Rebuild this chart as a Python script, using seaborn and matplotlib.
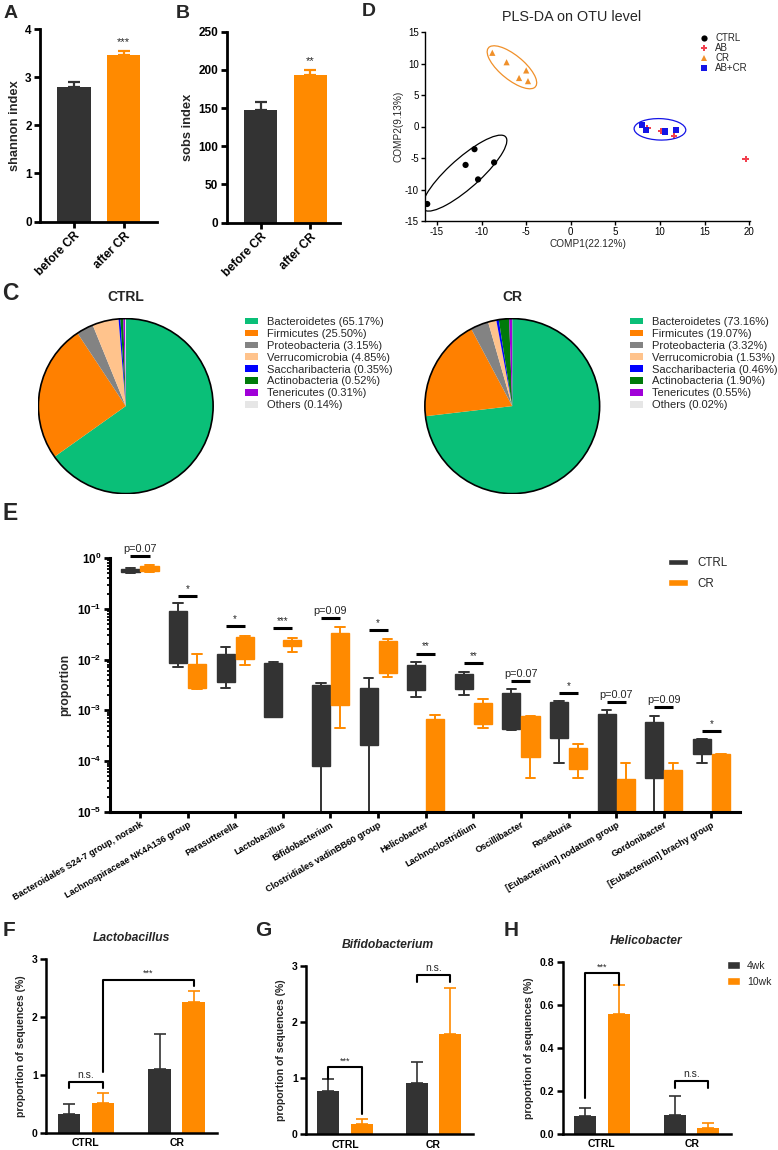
import matplotlib
matplotlib.use('Agg')
import matplotlib.pyplot as plt
from matplotlib.patches import Patch, Circle, Ellipse
import numpy as np
import pandas as pd
import seaborn as sns

sns.set_theme(style='ticks')
plt.rcParams['font.family'] = ['Liberation Sans', 'DejaVu Sans']
plt.rcParams['axes.unicode_minus'] = False
plt.rcParams['mathtext.fontset'] = 'custom'
plt.rcParams['mathtext.rm'] = 'Liberation Sans'
plt.rcParams['mathtext.bf'] = 'Liberation Sans:bold'

DARK = '#333333'
ORANGE = '#FF8A00'

# ---- A / B: alpha diversity ----
alpha_groups = ['before CR', 'after CR']
shannon_mean = [2.79, 3.46]
shannon_sem = [0.11, 0.09]
sobs_mean = [147, 193]
sobs_sem = [11, 7]

# ---- D: PLS-DA scores ----
ctrl_x = [-16.1, -10.8, -11.8, -8.6, -10.4]
ctrl_y = [-12.3, -3.6, -6.1, -5.7, -8.4]
ab_x = [8.6, 10.1, 11.6, 19.6]
ab_y = [-0.2, -0.7, -1.5, -5.1]
cr_x = [-8.8, -7.2, -5.8, -5.0, -4.8]
cr_y = [11.7, 10.2, 7.7, 8.9, 7.2]
abcr_x = [8.0, 8.4, 10.6, 11.8]
abcr_y = [0.2, -0.6, -0.8, -0.5]
# confidence ellipses (data units)
ell_groups = ['CTRL', 'CR', 'AB+CR']
ell_cx = [-11.9, -6.6, 10.0]
ell_cy = [-7.4, 9.4, -0.45]
ell_major = [7.4, 4.1, 2.9]
ell_minor = [2.0, 1.6, 1.7]
ell_angle = [53, -53, -3]

# ---- C: phylum composition ----
phyla = ['Bacteroidetes', 'Firmicutes', 'Proteobacteria', 'Verrucomicrobia',
         'Saccharibacteria', 'Actinobacteria', 'Tenericutes', 'Others']
ctrl_pct = [65.17, 25.50, 3.15, 4.85, 0.35, 0.52, 0.31, 0.14]
cr_pct = [73.16, 19.07, 3.32, 1.53, 0.46, 1.90, 0.55, 0.02]
phyla_colors = ['#0ABF78', '#FF8000', '#838383', '#FFC38C',
                '#0000FF', '#007A0A', '#A000D8', '#E6E6E6']

# ---- E: genus level box plots (min, q1, q3, max) ----
genera = ['Bacteroidales S24-7 group, norank', 'Lachnospiraceae NK4A136 group',
          'Parasutterella', 'Lactobacillus', 'Bifidobacterium',
          'Clostridiales vadinBB60 group', 'Helicobacter', 'Lachnoclostridium',
          'Oscillibacter', 'Roseburia', '[Eubacterium] nodatum group',
          'Gordonibacter', '[Eubacterium] brachy group']
ctrl_lo = [0.50, 0.0072, 0.0027, 0.00073, 1e-6, 1e-6, 0.0018, 0.0020, 0.00041, 9.1e-5, 1e-6, 1e-6, 9.1e-5]
ctrl_q1 = [0.52, 0.0085, 0.0037, 0.00075, 8.1e-5, 0.00021, 0.0025, 0.0026, 0.00043, 0.00028, 1e-6, 4.6e-5, 0.000138]
ctrl_q3 = [0.62, 0.092, 0.0127, 0.0085, 0.0032, 0.0028, 0.0077, 0.0052, 0.0022, 0.00145, 0.00085, 0.0006, 0.00027]
ctrl_hi = [0.63, 0.13, 0.0175, 0.0088, 0.0034, 0.0044, 0.0089, 0.0057, 0.0026, 0.0015, 0.0010, 0.00076, 0.00027]
cr_lo = [0.53, 0.0026, 0.0079, 0.0144, 0.00046, 0.0046, 1e-6, 0.00046, 4.6e-5, 4.6e-5, 1e-6, 1e-6, 1e-6]
cr_q1 = [0.55, 0.0027, 0.0103, 0.0187, 0.0013, 0.0054, 1e-6, 0.00053, 0.00012, 6.9e-5, 1e-6, 1e-6, 1e-6]
cr_q3 = [0.70, 0.0082, 0.028, 0.0245, 0.034, 0.0233, 0.00069, 0.00138, 0.00076, 0.00018, 4.5e-5, 6.7e-5, 0.000136]
cr_hi = [0.72, 0.0127, 0.029, 0.027, 0.043, 0.0254, 0.00081, 0.00166, 0.00079, 0.00022, 9.3e-5, 9.3e-5, 0.000136]
sig_height = [1.1, 0.176, 0.0458, 0.0413, 0.0668, 0.0383, 0.0131, 0.00845, 0.00379, 0.00223, 0.00146, 0.00115, 0.00039]
sig_label = ['p=0.07', '*', '*', '***', 'p=0.09', '*', '**', '**', 'p=0.07', '*', 'p=0.07', 'p=0.09', '*']

# ---- F / G / H: proportion of sequences ----
ft_groups = ['CTRL', 'CR']
ft_times = ['4wk', '10wk']
lacto_4wk_mean = [0.32, 1.10]
lacto_4wk_sem = [0.17, 0.61]
lacto_10wk_mean = [0.51, 2.25]
lacto_10wk_sem = [0.18, 0.20]
bifido_4wk_mean = [0.77, 0.91]
bifido_4wk_sem = [0.21, 0.37]
bifido_10wk_mean = [0.18, 1.78]
bifido_10wk_sem = [0.09, 0.82]
helico_4wk_mean = [0.084, 0.087]
helico_4wk_sem = [0.037, 0.090]
helico_10wk_mean = [0.558, 0.028]
helico_10wk_sem = [0.135, 0.020]
# brackets: (bar a, bar b, leg a bottom, top, leg b bottom, label)
lacto_brackets = [(('CTRL', '4wk'), ('CTRL', '10wk'), 0.77, 0.87, 0.77, 'n.s.'),
                  (('CTRL', '10wk'), ('CR', '10wk'), 1.05, 2.64, 2.54, '***')]
bifido_brackets = [(('CTRL', '4wk'), ('CTRL', '10wk'), 0.99, 1.19, 0.37, '***'),
                   (('CR', '4wk'), ('CR', '10wk'), 2.71, 2.83, 2.71, 'n.s.')]
helico_brackets = [(('CTRL', '4wk'), ('CTRL', '10wk'), 0.165, 0.747, 0.693, '***'),
                   (('CR', '4wk'), ('CR', '10wk'), 0.211, 0.245, 0.211, 'n.s.')]

W, H = 778, 1150
fig = plt.figure(figsize=(W / 100, H / 100), dpi=100)
fig.patch.set_facecolor('white')


def add_ax(left, top, right, bottom):
    return fig.add_axes([left / W, 1 - bottom / H, (right - left) / W, (bottom - top) / H])


def bold_ticks(ax):
    for lab in ax.get_xticklabels() + ax.get_yticklabels():
        lab.set_fontweight('bold')


def style_axis(ax, lw=1.8, size=8):
    sns.despine(ax=ax)
    for s in ('left', 'bottom'):
        ax.spines[s].set_linewidth(lw)
        ax.spines[s].set_color('black')
    ax.tick_params(axis='both', width=lw, length=4, labelsize=size, colors='black', pad=2)


def letter(x, y, s, size=14):
    fig.text(x / W, 1 - y / H, s, fontsize=size, fontweight='bold', ha='center', va='center')


# ---------- A and B ----------
def alpha_panel(box, means, sems, ymax, step, ylabel, star, xlim):
    ax = add_ax(*box)
    sns.barplot(x=alpha_groups, y=means, hue=alpha_groups, palette=[DARK, ORANGE],
                width=0.67, saturation=1, linewidth=0, legend=False, ax=ax)
    for i, (m, e, c) in enumerate(zip(means, sems, [DARK, ORANGE])):
        ax.errorbar(i, m, yerr=[[0], [e]], fmt='none', ecolor=c, elinewidth=1.6,
                    capsize=4.5, capthick=1.6)
    ax.annotate(star, (1, means[1] + sems[1]), xytext=(0, 3), textcoords='offset points',
                ha='center', va='bottom', fontsize=8)
    ax.set_ylim(0, ymax)
    ax.set_yticks(np.arange(0, ymax + 1e-9, step))
    ax.set_xlim(*xlim)
    style_axis(ax, lw=2.0, size=8.5)
    ax.set_ylabel(ylabel, fontsize=9.3, fontweight='bold', labelpad=3)
    ax.set_xticks([0, 1])
    ax.set_xticklabels(alpha_groups, rotation=45, ha='right', rotation_mode='anchor', fontsize=8.5)
    bold_ticks(ax)


alpha_panel((40, 29.3, 157, 221.5), shannon_mean, shannon_sem, 4, 1, 'shannon index', '***', (-0.68, 1.67))
alpha_panel((226.7, 31.7, 340, 222.7), sobs_mean, sobs_sem, 250, 50, 'sobs index', '**', (-0.69, 1.6))
letter(10.5, 14, 'A')
letter(182.5, 13.5, 'B')

# ---------- D ----------
axd = add_ax(425, 32, 750, 221)
pls = pd.concat([
    pd.DataFrame({'x': ctrl_x, 'y': ctrl_y, 'group': 'CTRL'}),
    pd.DataFrame({'x': ab_x, 'y': ab_y, 'group': 'AB'}),
    pd.DataFrame({'x': cr_x, 'y': cr_y, 'group': 'CR'}),
    pd.DataFrame({'x': abcr_x, 'y': abcr_y, 'group': 'AB+CR'}),
], ignore_index=True)
pls_colors = {'CTRL': 'black', 'AB': '#F2404E', 'CR': '#F0902A', 'AB+CR': '#1414E6'}
pls_markers = {'CTRL': 'o', 'AB': 'P', 'CR': '^', 'AB+CR': 's'}
sns.scatterplot(data=pls, x='x', y='y', hue='group', style='group',
                hue_order=list(pls_colors), style_order=list(pls_colors),
                palette=pls_colors, markers=pls_markers, s=20, linewidth=0, ax=axd)
for g, cx, cy, a, b, ang in zip(ell_groups, ell_cx, ell_cy, ell_major, ell_minor, ell_angle):
    axd.add_patch(Ellipse((cx, cy), 2 * a, 2 * b, angle=ang, fill=False,
                          edgecolor=pls_colors[g], lw=0.9))
axd.set_xlim(-16.35, 20.1)
axd.set_ylim(-15, 15)
axd.set_xticks(np.arange(-15, 21, 5))
axd.set_yticks(np.arange(-15, 16, 5))
sns.despine(ax=axd)
for s in ('left', 'bottom'):
    axd.spines[s].set_linewidth(1.0)
    axd.spines[s].set_color('black')
axd.tick_params(width=1.0, length=3, labelsize=7, colors='black', pad=1.5)
axd.set_xlabel('COMP1(22.12%)', fontsize=7.2, labelpad=1)
axd.set_ylabel('COMP2(9.13%)', fontsize=7.2, labelpad=1)
sns.move_legend(axd, 'upper left', bbox_to_anchor=(0.815, 1.02), frameon=False, title=None,
                fontsize=7, handletextpad=0.1, labelspacing=0.0, borderpad=0)
fig.text(572 / W, 1 - 16.7 / H, 'PLS-DA on OTU level', fontsize=10.4, ha='center', va='center')
letter(369, 11, 'D')


# ---------- C ----------
def pie_panel(left, pct, title, legend_x):
    ax = add_ax(left, 317.7, left + 176.5, 494.5)
    ax.pie(pct, colors=phyla_colors, startangle=90, counterclock=False,
           wedgeprops=dict(linewidth=0))
    ax.add_patch(Circle((0, 0), 1, fill=False, edgecolor='black', lw=1.2))
    ax.set_xlim(-1.01, 1.01)
    ax.set_ylim(-1.01, 1.01)
    ax.set_aspect('auto')
    fig.text((left + 88) / W, 1 - 297 / H, title, fontsize=10, fontweight='bold', ha='center', va='center')
    handles = [Patch(facecolor=c, edgecolor='none') for c in phyla_colors]
    labels = [f'{p} ({v:.2f}%)' for p, v in zip(phyla, pct)]
    ax.legend(handles, labels, loc='upper left', bbox_to_anchor=(legend_x / W, 1 - 317 / H),
              bbox_transform=fig.transFigure, frameon=False, fontsize=8.0, handlelength=1.15,
              handleheight=0.55, handletextpad=0.8, labelspacing=0.17, borderpad=0, borderaxespad=0)


pie_panel(37.5, ctrl_pct, 'CTRL', 245)
pie_panel(424, cr_pct, 'CR', 630)
letter(10, 294, 'C', 16.5)

# ---------- E ----------
axe = add_ax(110, 558, 740, 812)
axe.set_yscale('log')
pos = np.arange(len(genera))
for lo, q1, q3, hi, off, col in [(ctrl_lo, ctrl_q1, ctrl_q3, ctrl_hi, -0.2, DARK),
                                  (cr_lo, cr_q1, cr_q3, cr_hi, 0.2, ORANGE)]:
    stats = [dict(whislo=a, q1=b, med=b, q3=c, whishi=d, fliers=[]) for a, b, c, d in zip(lo, q1, q3, hi)]
    axe.bxp(stats, positions=pos + off, widths=0.38, patch_artist=True, showfliers=False,
            capwidths=0.2, manage_ticks=False,
            boxprops=dict(facecolor=col, edgecolor=col, linewidth=1.0),
            whiskerprops=dict(color=col, linewidth=1.4),
            capprops=dict(color=col, linewidth=1.4),
            medianprops=dict(color=col, linewidth=0))
for i, (h, lab) in enumerate(zip(sig_height, sig_label)):
    axe.plot([i - 0.2, i + 0.2], [h, h], color='black', lw=2.2, clip_on=False, solid_capstyle='butt')
    axe.annotate(lab, (i, h), xytext=(0, 1.5), textcoords='offset points', ha='center', va='bottom',
                 fontsize=7.8 if lab.startswith('p') else 7, annotation_clip=False)
axe.set_xlim(-0.63, 12.6)
axe.set_ylim(1e-5, 1)
exps = [0, -1, -2, -3, -4, -5]
axe.set_yticks([10.0 ** e for e in exps])
axe.set_yticklabels([r'$\mathbf{10^{%d}}$' % e for e in exps])
axe.set_xticks(pos)
axe.set_xticklabels(genera, rotation=30, ha='right', rotation_mode='anchor', fontsize=6.5)
sns.despine(ax=axe)
for s in ('left', 'bottom'):
    axe.spines[s].set_linewidth(2.2)
    axe.spines[s].set_color('black')
axe.tick_params(axis='both', which='major', width=2.0, length=4, colors='black', pad=2)
axe.tick_params(axis='y', which='major', labelsize=8.5)
axe.tick_params(axis='y', which='minor', width=1.3, length=2.5, colors='black')
axe.set_ylabel('proportion', fontsize=8.8, fontweight='bold', labelpad=4)
bold_ticks(axe)
fig.legend([Patch(facecolor=DARK), Patch(facecolor=ORANGE)], ['CTRL', 'CR'], loc='upper left',
           bbox_to_anchor=(668 / W, 1 - 557 / H), frameon=False, fontsize=8.3, handlelength=1.75,
           handleheight=0.5, handletextpad=0.8, labelspacing=0.75, borderpad=0, borderaxespad=0)
letter(10, 513, 'E', 16.5)


# ---------- F, G, H ----------
def time_panel(box, m4, s4, m10, s10, ymax, yticks, fmt, brackets, title, title_xy):
    ax = add_ax(*box)
    df = pd.DataFrame({'group': ft_groups * 2, 'time': ['4wk'] * 2 + ['10wk'] * 2,
                       'mean': m4 + m10, 'sem': s4 + s10})
    sns.barplot(data=df, x='group', y='mean', hue='time', order=ft_groups, hue_order=ft_times,
                palette=[DARK, ORANGE], width=0.75, gap=0.34, saturation=1, linewidth=0,
                errorbar=None, legend=False, ax=ax)
    centers = {}
    for p in ax.patches:
        row = df.iloc[(df['mean'] - p.get_height()).abs().argmin()]
        centers[(row['group'], row['time'])] = p.get_x() + p.get_width() / 2
    for _, row in df.iterrows():
        c = DARK if row['time'] == '4wk' else ORANGE
        ax.errorbar(centers[(row['group'], row['time'])], row['mean'], yerr=[[0], [row['sem']]],
                    fmt='none', ecolor=c, elinewidth=1.2, capsize=4, capthick=1.2)
    for a, b, la, top, lb, lab in brackets:
        xa, xb = centers[a], centers[b]
        ax.plot([xa, xa, xb, xb], [la, top, top, lb], color='black', lw=1.5, clip_on=False)
        ax.annotate(lab, ((xa + xb) / 2, top), xytext=(0, 1.5), textcoords='offset points',
                    ha='center', va='bottom', fontsize=7.5 if lab == 'n.s.' else 6.5,
                    annotation_clip=False)
    ax.set_xlim(-0.44, 1.44)
    ax.set_ylim(0, ymax)
    ax.set_yticks(yticks)
    ax.set_yticklabels([fmt % v for v in yticks])
    style_axis(ax, lw=1.8, size=7.5)
    ax.tick_params(axis='x', length=0, pad=4)
    ax.set_xlabel('')
    ax.set_ylabel('proportion of sequences (%)', fontsize=7.6, fontweight='bold', labelpad=4)
    bold_ticks(ax)
    fig.text(title_xy[0] / W, 1 - title_xy[1] / H, title, fontsize=8.7, fontweight='bold',
             fontstyle='italic', ha='center', va='center')
    return ax


time_panel((46, 959, 216.5, 1132.7), lacto_4wk_mean, lacto_4wk_sem, lacto_10wk_mean, lacto_10wk_sem,
           3, [0, 1, 2, 3], '%d', lacto_brackets, 'Lactobacillus', (131.5, 938))
time_panel((306, 965.7, 472.5, 1134.3), bifido_4wk_mean, bifido_4wk_sem, bifido_10wk_mean, bifido_10wk_sem,
           3, [0, 1, 2, 3], '%d', bifido_brackets, 'Bifidobacterium', (388, 945))
time_panel((562.5, 962, 731, 1133.7), helico_4wk_mean, helico_4wk_sem, helico_10wk_mean, helico_10wk_sem,
           0.8, [0, 0.2, 0.4, 0.6, 0.8], '%.1f', helico_brackets, 'Helicobacter', (646.5, 940.7))
fig.legend([Patch(facecolor=DARK), Patch(facecolor=ORANGE)], ft_times, loc='upper left',
           bbox_to_anchor=(727 / W, 1 - 961 / H), frameon=False, fontsize=7.5, handlelength=1.2,
           handleheight=0.8, handletextpad=0.7, labelspacing=0.55, borderpad=0, borderaxespad=0)
letter(9, 930, 'F', 15)
letter(263.5, 930, 'G', 15)
letter(511, 930, 'H', 15)

fig.savefig('out.png', dpi=100, facecolor='white')
